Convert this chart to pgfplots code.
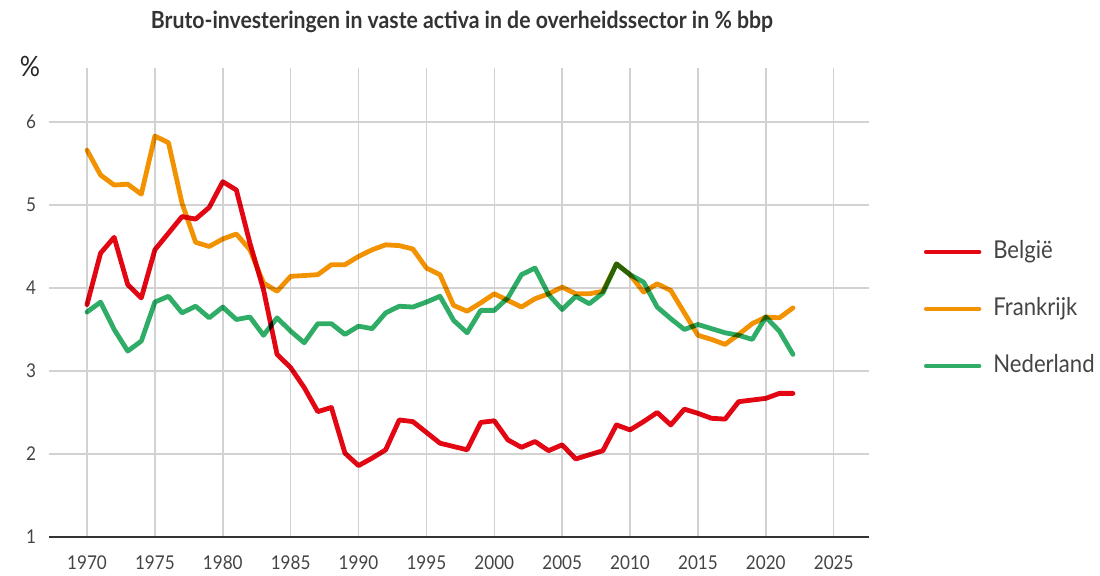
\documentclass[border=0pt]{standalone}
\usepackage{fontspec}
\setmainfont{Lato}[FakeStretch=0.9]
\usepackage{pgfplots}
\pgfplotsset{compat=1.18}

\definecolor{beRed}{HTML}{E30613}
\definecolor{frOrange}{HTML}{F39200}
\definecolor{nlGreen}{HTML}{2FAC66}
\definecolor{gridgray}{HTML}{D2D2D2}
\definecolor{txt}{HTML}{444444}

% bruto-investeringen overheid, % bbp
\pgfplotstableread{
year be fr nl
1970 3.80 5.66 3.71
1971 4.42 5.36 3.83
1972 4.61 5.24 3.50
1973 4.04 5.25 3.24
1974 3.88 5.13 3.36
1975 4.46 5.83 3.83
1976 4.66 5.75 3.90
1977 4.86 5.02 3.70
1978 4.83 4.55 3.78
1979 4.97 4.50 3.64
1980 5.28 4.59 3.77
1981 5.18 4.65 3.62
1982 4.54 4.46 3.65
1983 3.98 4.06 3.43
1984 3.20 3.96 3.64
1985 3.04 4.14 3.48
1986 2.80 4.15 3.34
1987 2.51 4.16 3.57
1988 2.56 4.28 3.57
1989 2.01 4.28 3.44
1990 1.86 4.38 3.54
1991 1.95 4.46 3.51
1992 2.05 4.52 3.70
1993 2.41 4.51 3.78
1994 2.39 4.47 3.77
1995 2.26 4.24 3.83
1996 2.13 4.16 3.90
1997 2.09 3.79 3.61
1998 2.05 3.72 3.46
1999 2.38 3.82 3.73
2000 2.40 3.93 3.73
2001 2.17 3.85 3.88
2002 2.08 3.77 4.16
2003 2.15 3.87 4.24
2004 2.04 3.93 3.92
2005 2.11 4.01 3.74
2006 1.94 3.93 3.90
2007 1.99 3.93 3.81
2008 2.04 3.96 3.94
2009 2.35 4.29 4.29
2010 2.29 4.16 4.16
2011 2.39 3.95 4.07
2012 2.50 4.05 3.77
2013 2.35 3.97 3.63
2014 2.54 3.70 3.50
2015 2.49 3.43 3.56
2016 2.43 3.38 3.51
2017 2.42 3.32 3.46
2018 2.63 3.44 3.43
2019 2.65 3.57 3.38
2020 2.67 3.65 3.65
2021 2.73 3.64 3.48
2022 2.73 3.76 3.20
}\invdata

\begin{document}
\begin{tikzpicture}
\useasboundingbox (-24.5pt,-19.5pt) rectangle (525.5pt,268.5pt);
\begin{axis}[
    at={(0,0)}, anchor=south west,
    scale only axis, width=410pt, height=234.5pt,
    xmin=1967.2, xmax=2027.6, ymin=1, ymax=6.65,
    xtick={1970,1975,...,2025}, ytick={1,2,...,6},
    /pgf/number format/.cd, 1000 sep={}, assume math mode=true, /pgfplots/.cd,
    axis x line*=bottom, axis y line*=left,
    x axis line style={draw=black!80, line width=0.8pt, -},
    y axis line style={draw=none},
    major tick length=0pt,
    grid=major, grid style={gridgray, line width=0.75pt},
    ticklabel style={font=\fontsize{9.5}{11}\selectfont, text=txt},
    yticklabel style={xshift=-3pt},
    xticklabel style={yshift=-6pt},
    every axis plot post/.append style={line width=2.4pt, line join=round, line cap=round, blend mode=multiply},
    legend cell align=left,
    legend image code/.code={\draw[#1, line width=2.2pt, line cap=round] (0pt,0pt) -- (26.5pt,0pt);},
    legend style={at={(1.067,0.486)}, anchor=west, draw=none, fill=none,
        inner sep=0pt, outer sep=0pt, row sep=16.5pt,
        font=\fontsize{12.3}{14}\selectfont, text=txt,
        nodes={inner sep=0pt, text height=9pt, text depth=3pt},
        /tikz/every odd column/.append style={column sep=6pt}},
]
\addplot[beRed] table[x=year, y=be] {\invdata};
\addlegendentry{België}
\addplot[frOrange] table[x=year, y=fr] {\invdata};
\addlegendentry{Frankrijk}
\addplot[nlGreen] table[x=year, y=nl] {\invdata};
\addlegendentry{Nederland}
\end{axis}
\node[font=\bfseries\fontsize{11.8}{13}\selectfont, text=black!80] at (206.5pt,257.5pt)
    {Bruto-investeringen in vaste activa in de overheidssector in \% bbp};
\node[font=\fontsize{14}{16}\selectfont, text=black!85] at (-9.5pt,235pt) {\%};
\end{tikzpicture}
\end{document}
